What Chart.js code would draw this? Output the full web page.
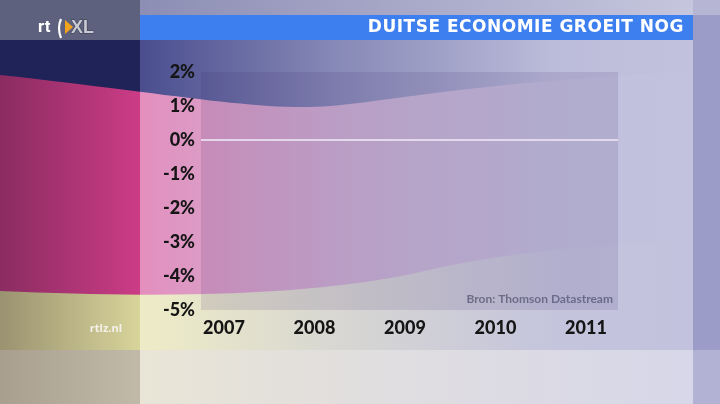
<!DOCTYPE html>
<html>
<head>
<meta charset="utf-8">
<script src="https://cdn.jsdelivr.net/npm/chart.js@4"></script>
<style>
  html, body { margin: 0; padding: 0; background: #c4c4de; }
  #wrap { width: 720px; height: 404px; position: relative; }
</style>
</head>
<body>
<div id="wrap"><canvas id="myChart" width="720" height="404"></canvas></div>
<script>
// chart data
const years = [2007, 2008, 2009, 2010, 2011];
const yTicks = [2, 1, 0, -1, -2, -3, -4, -5];
const growth = [];   // no series shown yet in this frame

const title = 'DUITSE ECONOMIE GROEIT NOG';
const source = 'Bron: Thomson Datastream';

function drawBands(ctx, x0, x1, navy, pink, yellow) {
  ctx.save();
  ctx.beginPath();
  ctx.rect(x0, 0, x1 - x0, 404);
  ctx.clip();
  ctx.fillStyle = yellow;
  ctx.fillRect(0, 0, 720, 404);
  // pink band, wavy lower edge
  ctx.beginPath();
  ctx.moveTo(0, 0);
  ctx.lineTo(720, 0);
  ctx.lineTo(720, 240);
  ctx.bezierCurveTo(560, 245, 480, 258, 420, 272);
  ctx.bezierCurveTo(330, 292, 200, 300, 0, 291);
  ctx.closePath();
  ctx.fillStyle = pink;
  ctx.fill();
  // navy band, wavy lower edge
  ctx.beginPath();
  ctx.moveTo(0, 0);
  ctx.lineTo(720, 0);
  ctx.lineTo(720, 70);
  ctx.bezierCurveTo(470, 82, 400, 100, 330, 106);
  ctx.bezierCurveTo(260, 112, 160, 92, 0, 75);
  ctx.closePath();
  ctx.fillStyle = navy;
  ctx.fill();
  ctx.restore();
}

function hGrad(ctx, x0, x1, stops) {
  const g = ctx.createLinearGradient(x0, 0, x1, 0);
  stops.forEach(s => g.addColorStop(s[0], s[1]));
  return g;
}

const backdrop = {
  id: 'backdrop',
  beforeDraw(chart) {
    const ctx = chart.ctx;
    const a = chart.chartArea;
    ctx.save();

    // middle part
    drawBands(ctx, 140, 720, '#4a4e8e',
      hGrad(ctx, 140, 400, [[0, '#e48fbe'], [1, '#d6a0c8']]),
      '#eeecc6');
    ctx.fillStyle = hGrad(ctx, 140, 693, [[0, 'rgba(194,194,222,0)'], [0.35, 'rgba(194,194,222,0.5)'], [0.75, 'rgba(194,194,222,0.95)'], [1, 'rgba(194,194,222,1)']]);
    ctx.fillRect(140, 0, 553, 404);

    // left panel
    drawBands(ctx, 0, 140, '#1f2358',
      hGrad(ctx, 0, 140, [[0, '#8a2c62'], [1, '#cc3c86']]),
      hGrad(ctx, 0, 140, [[0, '#9a9270'], [1, '#d8d49a']]));
    ctx.fillStyle = '#5d617d';
    ctx.fillRect(0, 0, 140, 40);
    ctx.fillStyle = hGrad(ctx, 0, 140, [[0, '#a89f8f'], [1, '#c2baa8']]);
    ctx.fillRect(0, 350, 140, 54);

    // top strip and bottom row
    ctx.fillStyle = hGrad(ctx, 140, 693, [[0, '#8c8eb4'], [1, '#c6c6de']]);
    ctx.fillRect(140, 0, 553, 15);
    ctx.fillStyle = hGrad(ctx, 140, 693, [[0, 'rgba(232,228,216,0.9)'], [1, 'rgba(216,216,234,0.95)']]);
    ctx.fillRect(140, 350, 553, 54);

    // right panel
    ctx.fillStyle = '#b6b6d4';
    ctx.fillRect(693, 0, 27, 15);
    ctx.fillStyle = '#9c9cc8';
    ctx.fillRect(693, 15, 27, 335);
    ctx.fillStyle = '#b2b2d4';
    ctx.fillRect(693, 350, 27, 54);

    // plot area shade
    ctx.fillStyle = 'rgba(60,40,110,0.13)';
    ctx.fillRect(a.left, a.top, a.right - a.left, a.bottom - a.top);

    // title bar
    ctx.fillStyle = '#3e7ff0';
    ctx.fillRect(140, 15, 553, 25);
    ctx.fillStyle = '#ffffff';
    ctx.font = 'bold 17px "DejaVu Sans", sans-serif';
    ctx.letterSpacing = '0.5px';
    ctx.textAlign = 'right';
    ctx.textBaseline = 'middle';
    ctx.fillText(title, 684, 28);
    ctx.letterSpacing = '0px';

    // logo
    ctx.textAlign = 'left';
    ctx.font = 'bold 17px Roboto, sans-serif';
    ctx.fillStyle = '#ffffff';
    ctx.fillText('rt', 38, 28);
    ctx.strokeStyle = '#ffffff';
    ctx.lineWidth = 2.2;
    ctx.beginPath();
    ctx.moveTo(61, 19);
    ctx.quadraticCurveTo(57, 28, 61, 38);
    ctx.stroke();
    ctx.fillStyle = '#f2a21c';
    ctx.beginPath();
    ctx.moveTo(65, 20);
    ctx.lineTo(73, 27);
    ctx.lineTo(65, 34);
    ctx.closePath();
    ctx.fill();
    ctx.font = 'bold 18px "Liberation Sans", sans-serif';
    ctx.fillStyle = '#c9cad4';
    ctx.strokeStyle = '#3a3d50';
    ctx.lineWidth = 1;
    ctx.strokeText('XL', 71, 28);
    ctx.fillText('XL', 71, 28);

    // url
    ctx.font = 'bold 11px "Open Sans", sans-serif';
    ctx.fillStyle = '#f4f0ea';
    ctx.textAlign = 'right';
    ctx.fillText('rtlz.nl', 122, 329);
    ctx.restore();
  },
  afterDraw(chart) {
    const ctx = chart.ctx;
    const a = chart.chartArea;
    ctx.save();
    ctx.font = 'bold 12px Lato, sans-serif';
    ctx.fillStyle = 'rgba(95,95,125,0.85)';
    ctx.textAlign = 'right';
    ctx.textBaseline = 'middle';
    ctx.fillText(source, a.right - 5, a.bottom - 11);
    ctx.restore();
  }
};

const tickFont = { family: 'Lato', weight: '900', size: 18 };

new Chart(document.getElementById('myChart'), {
  type: 'line',
  data: {
    datasets: [{
      label: 'Groei',
      data: growth,
      borderColor: '#ffffff'
    }]
  },
  options: {
    responsive: false,
    animation: false,
    layout: { padding: { left: 0, right: 102, top: 72, bottom: 64 } },
    plugins: { legend: { display: false }, tooltip: { enabled: false } },
    scales: {
      x: {
        type: 'linear',
        min: 2006.746,
        max: 2011.354,
        afterBuildTicks: axis => { axis.ticks = years.map(v => ({ value: v })); },
        afterFit: scale => { scale.height = 30; },
        grid: { display: false },
        border: { display: false },
        ticks: { color: '#151515', font: tickFont, padding: -1, maxRotation: 0, callback: v => String(v) }
      },
      y: {
        min: -5,
        max: 2,
        afterBuildTicks: axis => { axis.ticks = yTicks.map(v => ({ value: v })); },
        afterFit: scale => { scale.width = 201; },
        border: { display: false },
        grid: {
          drawTicks: false,
          lineWidth: 2,
          color: c => c.tick && c.tick.value === 0 ? 'rgba(232,222,240,0.9)' : 'rgba(0,0,0,0)'
        },
        ticks: { color: '#151515', font: tickFont, padding: 6, callback: v => v + '%' }
      }
    }
  },
  plugins: [backdrop]
});
</script>
</body>
</html>
